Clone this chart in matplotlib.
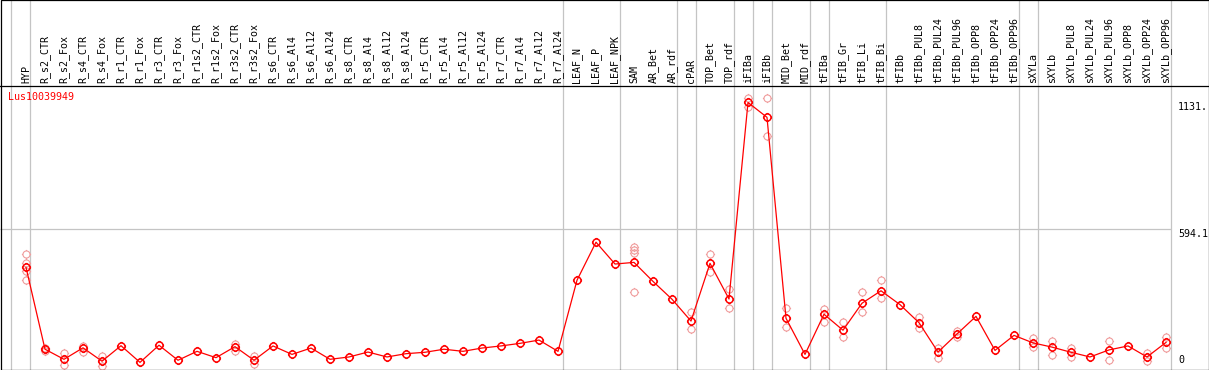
import numpy as np
import matplotlib
matplotlib.use("Agg")
import matplotlib.pyplot as plt
from matplotlib.path import Path
from matplotlib.patches import Rectangle
from matplotlib.transforms import blended_transform_factory

gene = "Lus10039949"

samples = ["HYP", "R_s2_CTR", "R_s2_Fox", "R_s4_CTR", "R_s4_Fox", "R_r1_CTR", "R_r1_Fox",
           "R_r3_CTR", "R_r3_Fox", "R_r1s2_CTR", "R_r1s2_Fox", "R_r3s2_CTR", "R_r3s2_Fox",
           "R_s6_CTR", "R_s6_Al4", "R_s6_Al12", "R_s6_Al24", "R_s8_CTR", "R_s8_Al4", "R_s8_Al12",
           "R_s8_Al24", "R_r5_CTR", "R_r5_Al4", "R_r5_Al12", "R_r5_Al24", "R_r7_CTR", "R_r7_Al4",
           "R_r7_Al12", "R_r7_Al24", "LEAF_N", "LEAF_P", "LEAF_NPK", "SAM", "AR_Bet", "AR_rdf",
           "cPAR", "TOP_Bet", "TOP_rdf", "iFIBa", "iFIBb", "MID_Bet", "MID_rdf", "tFIBa",
           "tFIB_Gr", "tFIB_Li", "tFIB_Bi", "tFIBb", "tFIBb_PUL8", "tFIBb_PUL24", "tFIBb_PUL96",
           "tFIBb_OPP8", "tFIBb_OPP24", "tFIBb_OPP96", "sXYLa", "sXYLb", "sXYLb_PUL8",
           "sXYLb_PUL24", "sXYLb_PUL96", "sXYLb_OPP8", "sXYLb_OPP24", "sXYLb_OPP96"]

means = [429, 80, 37, 86, 29, 95, 24, 97, 33, 71,
         44, 91, 33, 94, 58, 85, 37, 47, 68, 47,
         61, 67, 80, 71, 85, 94, 105, 119, 71, 374,
         536, 443, 450, 369, 293, 200, 446, 294, 1131.4, 1068,
         212, 58, 229, 161, 276, 329, 270, 193, 68, 145,
         220, 75, 139, 107, 89, 67, 47, 77, 94, 47, 109]

# replicate values that show outside the mean marker
replicates = {0: [484, 446, 415, 374], 1: [86, 72], 2: [63, 13], 3: [95, 69], 4: [51, 10],
              11: [102, 72], 12: [52, 17], 32: [517, 503, 489, 324], 35: [237, 165],
              36: [486, 410], 37: [335, 254], 38: [1149, 1111], 39: [1149, 990],
              40: [254, 173], 42: [250, 197], 43: [195, 131], 44: [323, 237], 45: [374, 297],
              47: [217, 170], 48: [85, 44], 49: [158, 133], 53: [128, 89], 54: [115, 57],
              55: [86, 48], 57: [114, 35], 59: [63, 29], 60: [133, 85]}

group_sizes = [1, 28, 3, 3, 1, 2, 1, 1, 2, 1, 3, 7, 1, 7]
ref_value = 594.1
max_label = "1131."

W, H = 1209, 370
x0_px, step_px = 26, 19          # pixel of first sample, spacing
zero_px, scale_px = 368, 0.2347  # pixel row of value 0, pixels per unit
top_px, bot_px = 85.5, 369

def px2x(px):
    return (px - x0_px) / step_px

def py2v(py):
    return (zero_px - py) / scale_px

plt.rcParams['font.family'] = 'DejaVu Sans Mono'
plt.rcParams['font.size'] = 7.2

fig = plt.figure(figsize=(W / 100, H / 100), dpi=100)
ax = fig.add_axes([0, 1 - bot_px / H, 1, (bot_px - top_px) / H])
ax.set_xlim(px2x(0), px2x(W))
ax.set_ylim(py2v(bot_px), py2v(top_px))
ax.set_axis_off()

x = np.arange(len(samples))
grey = "#c4c4c4"

# group separators through the whole figure
bounds = np.cumsum([0] + group_sizes) - 1 + 4.5 / step_px
vtrans = blended_transform_factory(ax.transData, fig.transFigure)
ax.vlines(bounds, 0, 1, colors=grey, lw=0.9, transform=vtrans, clip_on=False, zorder=1)
ax.hlines(ref_value, px2x(0), bounds[-1], colors=grey, lw=0.9, zorder=1)

# marker: ring with four short ticks
circ = Path.unit_circle()
verts = list(circ.vertices)
codes = list(circ.codes)
for dx, dy in [(0, 1), (0, -1), (1, 0), (-1, 0)]:
    verts += [(dx, dy), (dx * 1.3, dy * 1.3)]
    codes += [Path.MOVETO, Path.LINETO]
ring = Path(verts, codes)

rx, ry = [], []
for i, vals in replicates.items():
    rx += [i] * len(vals)
    ry += vals
ax.plot(rx, ry, ls="none", marker=ring, ms=6.6, mfc="none", mec="#f09c9c", mew=0.8, zorder=2)
ax.plot(x, means, color="red", lw=0.9, zorder=3)
ax.plot(x, means, ls="none", marker=ring, ms=6.6, mfc="none", mec="red", mew=1.1, zorder=4)

# header labels
htrans = blended_transform_factory(ax.transData, ax.transAxes)
for i, s in enumerate(samples):
    ax.text(i, 1.008, s, rotation=90, ha="center", va="bottom", transform=htrans, clip_on=False)

ax.text(px2x(8), py2v(97.5), gene, color="red", ha="left", va="center")
ax.text(px2x(1178), max(means), max_label, ha="left", va="top")
ax.text(px2x(1178), ref_value, str(ref_value), ha="left", va="top")
ax.text(px2x(1178), py2v(365), "0", ha="left", va="bottom")

# frame and header line
fig.add_artist(Rectangle((1.2 / W, 1 - 369.5 / H), 1207.3 / W, 369.2 / H, transform=fig.transFigure,
                         fill=False, ec="black", lw=0.9))
fig.add_artist(plt.Line2D([0, 1], [1 - top_px / H] * 2, color="black", lw=0.9))

fig.savefig("out.png", dpi=100)
